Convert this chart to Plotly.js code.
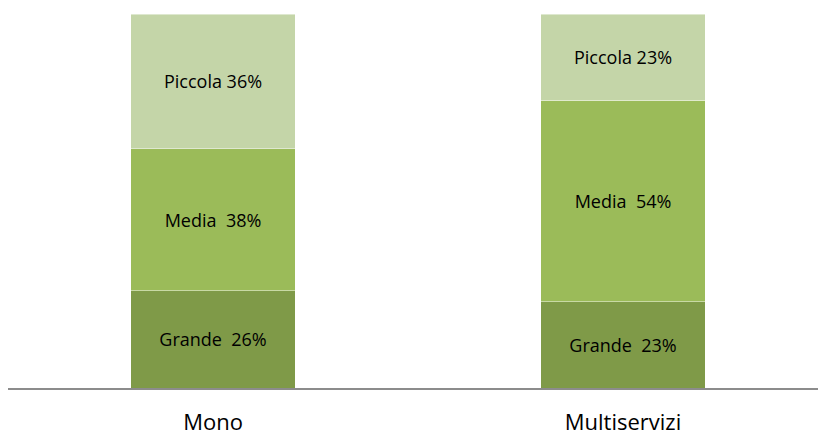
<!DOCTYPE html>
<html>
<head>
<meta charset="utf-8">
<script src="https://cdn.plot.ly/plotly-3.0.1.min.js"></script>
<style>html,body{margin:0;padding:0;background:#fff;}#chart{width:818px;height:437px;}</style>
</head>
<body>
<div id="chart"></div>
<script>
const categories = ["Mono", "Multiservizi"];
const grande = [26, 23];
const media = [38, 54];
const piccola = [36, 23];
const grandeLabels = ["Grande  26%", "Grande  23%"];
const mediaLabels = ["Media  38%", "Media  54%"];
const piccolaLabels = ["Piccola 36%", "Piccola 23%"];

function trace(name, y, text, color) {
  return {
    type: "bar", name: name, x: categories, y: y, text: text,
    textposition: "inside", insidetextanchor: "middle",
    textfont: {family: "'Open Sans', sans-serif", size: 18, color: "#000"},
    marker: {color: color, line: {color: "rgba(255,255,255,0.45)", width: 1}},
    hoverinfo: "none", width: 0.402
  };
}

const data = [
  trace("Grande", grande, grandeLabels, "#7F9A48"),
  trace("Media", media, mediaLabels, "#9BBB59"),
  trace("Piccola", piccola, piccolaLabels, "#C4D5A8")
];

const layout = {
  width: 818, height: 437,
  margin: {l: 8, r: 0, t: 14, b: 49},
  barmode: "stack", showlegend: false,
  paper_bgcolor: "#fff", plot_bgcolor: "#fff",
  xaxis: {
    type: "category", range: [-0.5, 1.4756],
    showline: true, linecolor: "#8C8C8C", linewidth: 2,
    ticks: "outside", ticklen: 14, tickcolor: "rgba(0,0,0,0)",
    tickfont: {family: "'Open Sans', sans-serif", size: 22, color: "#000"},
    showgrid: false, zeroline: false, fixedrange: true
  },
  yaxis: {range: [0, 100], visible: false, showgrid: false, zeroline: false, fixedrange: true}
};

Plotly.newPlot("chart", data, layout, {displayModeBar: false, staticPlot: true});
</script>
</body>
</html>
